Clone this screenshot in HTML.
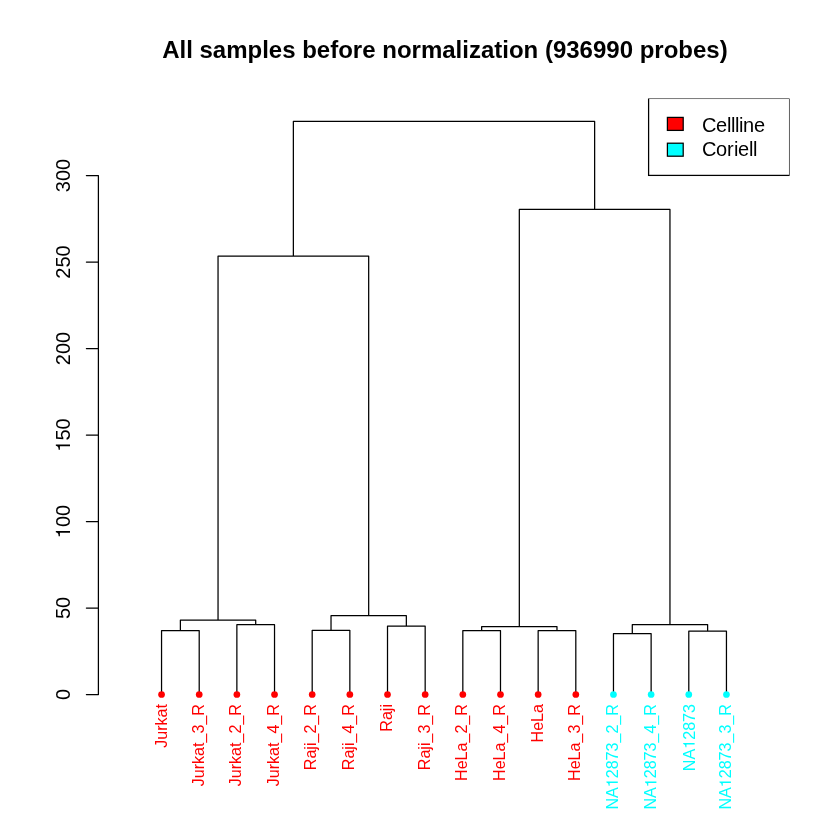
<!DOCTYPE html>
<html><head><meta charset="utf-8"><title>Dendrogram</title>
<style>html,body{margin:0;padding:0;background:#fff;}svg{display:block;}text{font-family:"Liberation Sans",sans-serif;}</style></head><body>
<svg width="840" height="840" viewBox="0 0 840 840" style="will-change:transform">
<rect width="840" height="840" fill="#fff"/>
<text x="444.9" y="57.8" font-size="24" font-weight="bold" text-anchor="middle" fill="#000">All samples before normalization (936990 probes)</text>
<path d="M161.55 694.50V630.50H199.21V694.50M236.87 694.50V624.70H274.53V694.50M180.38 630.50V620.00H255.70V624.70M312.19 694.50V630.30H349.85V694.50M387.51 694.50V626.00H425.17V694.50M331.02 630.30V615.70H406.34V626.00M462.83 694.50V630.60H500.49V694.50M538.15 694.50V630.50H575.81V694.50M481.66 630.60V626.60H556.98V630.50M613.47 694.50V633.50H651.13V694.50M688.79 694.50V631.15H726.45V694.50M632.30 633.50V624.50H707.62V631.15M218.04 620.00V256.00H368.68V615.70M519.32 626.60V209.40H669.96V624.50M293.36 256.00V121.40H594.64V209.40" fill="none" stroke="#000" stroke-width="1.25" stroke-linecap="round" stroke-linejoin="round"/>
<path d="M98.4 694.50V175.50M98.4 694.50H86.4M98.4 608.00H86.4M98.4 521.50H86.4M98.4 435.00H86.4M98.4 348.50H86.4M98.4 262.00H86.4M98.4 175.50H86.4" fill="none" stroke="#000" stroke-width="1.25" stroke-linecap="round"/>
<g transform="translate(70.00,694.50) rotate(-90)" fill="#000"><text x="-5.56" y="0" font-size="20">0</text></g>
<g transform="translate(70.00,608.00) rotate(-90)" fill="#000"><text x="-11.12 0.00" y="0" font-size="20">50</text></g>
<g transform="translate(70.00,521.50) rotate(-90)" fill="#000"><text x="-5.56 5.56" y="0" font-size="20">00</text><path d="M-9.50 0.00L-11.26 0.00L-11.26 -10.10L-14.66 -10.10L-14.66 -11.36C-12.28 -11.44 -11.38 -12.00 -10.78 -14.18L-9.50 -14.18Z"/></g>
<g transform="translate(70.00,435.00) rotate(-90)" fill="#000"><text x="-5.56 5.56" y="0" font-size="20">50</text><path d="M-9.50 0.00L-11.26 0.00L-11.26 -10.10L-14.66 -10.10L-14.66 -11.36C-12.28 -11.44 -11.38 -12.00 -10.78 -14.18L-9.50 -14.18Z"/></g>
<g transform="translate(70.00,348.50) rotate(-90)" fill="#000"><text x="-16.68 -5.56 5.56" y="0" font-size="20">200</text></g>
<g transform="translate(70.00,262.00) rotate(-90)" fill="#000"><text x="-16.68 -5.56 5.56" y="0" font-size="20">250</text></g>
<g transform="translate(70.00,175.50) rotate(-90)" fill="#000"><text x="-16.68 -5.56 5.56" y="0" font-size="20">300</text></g>
<circle cx="161.55" cy="694.5" r="3.35" fill="#ff0000"/>
<g transform="translate(166.60,704.00) rotate(-90)" fill="#ff0000"><text x="-43.84 -35.79 -26.84 -21.48 -13.43 -4.47" y="0" font-size="16.1">Jurkat</text></g>
<circle cx="199.21" cy="694.5" r="3.35" fill="#ff0000"/>
<g transform="translate(203.60,704.00) rotate(-90)" fill="#ff0000"><text x="-82.33 -74.28 -65.33 -59.97 -51.92 -42.96 -38.49 -29.54 -20.58 -11.63" y="0" font-size="16.1">Jurkat_3_R</text></g>
<circle cx="236.87" cy="694.5" r="3.35" fill="#ff0000"/>
<g transform="translate(241.20,704.00) rotate(-90)" fill="#ff0000"><text x="-82.33 -74.28 -65.33 -59.97 -51.92 -42.96 -38.49 -29.54 -20.58 -11.63" y="0" font-size="16.1">Jurkat_2_R</text></g>
<circle cx="274.53" cy="694.5" r="3.35" fill="#ff0000"/>
<g transform="translate(278.90,704.00) rotate(-90)" fill="#ff0000"><text x="-82.33 -74.28 -65.33 -59.97 -51.92 -42.96 -38.49 -29.54 -20.58 -11.63" y="0" font-size="16.1">Jurkat_4_R</text></g>
<circle cx="312.19" cy="694.5" r="3.35" fill="#ff0000"/>
<g transform="translate(316.40,704.00) rotate(-90)" fill="#ff0000"><text x="-66.22 -54.60 -45.64 -42.07 -38.49 -29.54 -20.58 -11.63" y="0" font-size="16.1">Raji_2_R</text></g>
<circle cx="349.85" cy="694.5" r="3.35" fill="#ff0000"/>
<g transform="translate(354.00,704.00) rotate(-90)" fill="#ff0000"><text x="-66.22 -54.60 -45.64 -42.07 -38.49 -29.54 -20.58 -11.63" y="0" font-size="16.1">Raji_4_R</text></g>
<circle cx="387.51" cy="694.5" r="3.35" fill="#ff0000"/>
<g transform="translate(391.90,704.00) rotate(-90)" fill="#ff0000"><text x="-27.73 -16.11 -7.15 -3.58" y="0" font-size="16.1">Raji</text></g>
<circle cx="425.17" cy="694.5" r="3.35" fill="#ff0000"/>
<g transform="translate(429.50,704.00) rotate(-90)" fill="#ff0000"><text x="-66.22 -54.60 -45.64 -42.07 -38.49 -29.54 -20.58 -11.63" y="0" font-size="16.1">Raji_3_R</text></g>
<circle cx="462.83" cy="694.5" r="3.35" fill="#ff0000"/>
<g transform="translate(467.20,704.00) rotate(-90)" fill="#ff0000"><text x="-76.98 -65.35 -56.40 -47.44 -38.49 -29.54 -20.58 -11.63" y="0" font-size="16.1">HeLa_2_R</text></g>
<circle cx="500.49" cy="694.5" r="3.35" fill="#ff0000"/>
<g transform="translate(504.80,704.00) rotate(-90)" fill="#ff0000"><text x="-76.98 -65.35 -56.40 -47.44 -38.49 -29.54 -20.58 -11.63" y="0" font-size="16.1">HeLa_4_R</text></g>
<circle cx="538.15" cy="694.5" r="3.35" fill="#ff0000"/>
<g transform="translate(543.40,704.00) rotate(-90)" fill="#ff0000"><text x="-38.49 -26.86 -17.91 -8.95" y="0" font-size="16.1">HeLa</text></g>
<circle cx="575.81" cy="694.5" r="3.35" fill="#ff0000"/>
<g transform="translate(580.20,704.00) rotate(-90)" fill="#ff0000"><text x="-76.98 -65.35 -56.40 -47.44 -38.49 -29.54 -20.58 -11.63" y="0" font-size="16.1">HeLa_3_R</text></g>
<circle cx="613.47" cy="694.5" r="3.35" fill="#00ffff"/>
<g transform="translate(617.80,704.00) rotate(-90)" fill="#00ffff"><text x="-105.62 -94.00 -74.31 -65.35 -56.40 -47.44 -38.49 -29.54 -20.58 -11.63" y="0" font-size="16.1">NA2873_2_R</text><path d="M-77.48 0.00L-78.90 0.00L-78.90 -8.13L-81.63 -8.13L-81.63 -9.14C-79.72 -9.21 -78.99 -9.66 -78.51 -11.41L-77.48 -11.41Z"/></g>
<circle cx="651.13" cy="694.5" r="3.35" fill="#00ffff"/>
<g transform="translate(656.40,704.00) rotate(-90)" fill="#00ffff"><text x="-105.62 -94.00 -74.31 -65.35 -56.40 -47.44 -38.49 -29.54 -20.58 -11.63" y="0" font-size="16.1">NA2873_4_R</text><path d="M-77.48 0.00L-78.90 0.00L-78.90 -8.13L-81.63 -8.13L-81.63 -9.14C-79.72 -9.21 -78.99 -9.66 -78.51 -11.41L-77.48 -11.41Z"/></g>
<circle cx="688.79" cy="694.5" r="3.35" fill="#00ffff"/>
<g transform="translate(694.60,704.00) rotate(-90)" fill="#00ffff"><text x="-67.14 -55.51 -35.82 -26.86 -17.91 -8.95" y="0" font-size="16.1">NA2873</text><path d="M-38.99 0.00L-40.41 0.00L-40.41 -8.13L-43.14 -8.13L-43.14 -9.14C-41.23 -9.21 -40.50 -9.66 -40.02 -11.41L-38.99 -11.41Z"/></g>
<circle cx="726.45" cy="694.5" r="3.35" fill="#00ffff"/>
<g transform="translate(730.90,704.00) rotate(-90)" fill="#00ffff"><text x="-105.62 -94.00 -74.31 -65.35 -56.40 -47.44 -38.49 -29.54 -20.58 -11.63" y="0" font-size="16.1">NA2873_3_R</text><path d="M-77.48 0.00L-78.90 0.00L-78.90 -8.13L-81.63 -8.13L-81.63 -9.14C-79.72 -9.21 -78.99 -9.66 -78.51 -11.41L-77.48 -11.41Z"/></g>
<clipPath id="plt"><rect x="98.4" y="98.4" width="691.2" height="619.2"/></clipPath>
<rect x="648.6" y="98.4" width="141.0" height="77.0" fill="#fff" stroke="#000" stroke-width="1.25" clip-path="url(#plt)"/>
<rect x="667.4" y="117.4" width="15.8" height="13" fill="#ff0000" stroke="#000" stroke-width="1.25"/>
<rect x="667.4" y="143.2" width="15.8" height="13" fill="#00ffff" stroke="#000" stroke-width="1.25"/>
<text x="702 716 727 731 735 739 743 754" y="131.8" font-size="20" fill="#000">Cellline</text>
<text x="702 716 727 734 738 749 753" y="156.4" font-size="20" fill="#000">Coriell</text>
</svg></body></html>
